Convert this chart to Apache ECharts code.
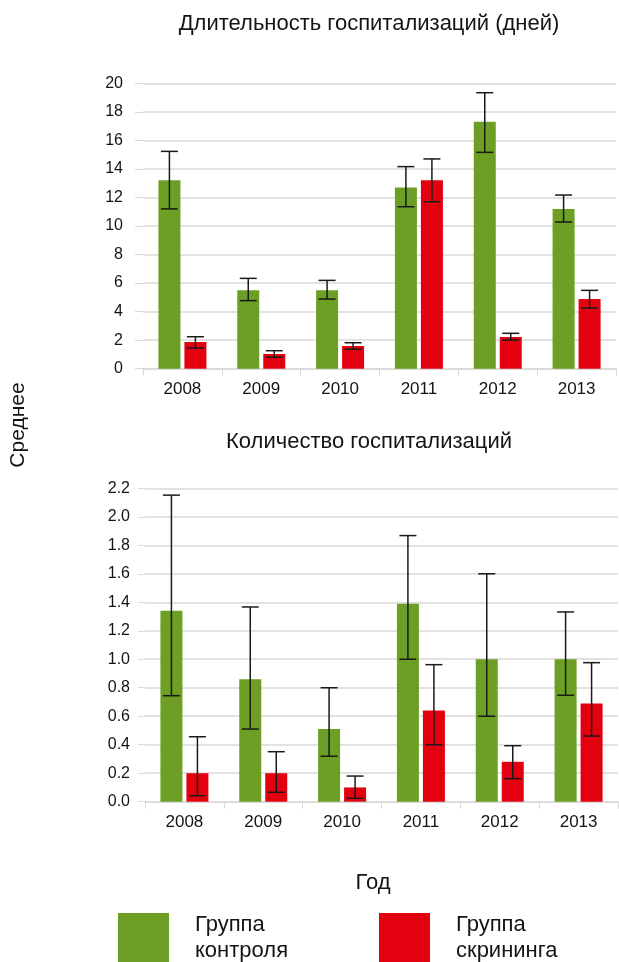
<!DOCTYPE html>
<html>
<head>
<meta charset="utf-8">
<script src="https://cdn.jsdelivr.net/npm/echarts@6/dist/echarts.min.js"></script>
<style>
  html, body { margin: 0; padding: 0; background: #fff; }
  #chart { width: 619px; height: 962px; }
</style>
</head>
<body>
<div id="chart"></div>
<script>
// Years shown on both panels
const years = ['2008', '2009', '2010', '2011', '2012', '2013'];

// Length of hospital stay (days): means and error-bar bounds
const stayControl      = [13.2, 5.5, 5.5, 12.7, 17.3, 11.2];
const stayControlLow   = [11.2, 4.77, 4.88, 11.35, 15.16, 10.28];
const stayControlHigh  = [15.23, 6.33, 6.19, 14.16, 19.34, 12.17];
const stayScreen       = [1.87, 1.03, 1.59, 13.2, 2.22, 4.88];
const stayScreenLow    = [1.45, 0.8, 1.36, 11.7, 2.01, 4.25];
const stayScreenHigh   = [2.24, 1.26, 1.82, 14.7, 2.48, 5.49];

// Number of hospitalisations: means and error-bar bounds
const countControl     = [1.34, 0.86, 0.51, 1.39, 1.0, 1.0];
const countControlLow  = [0.744, 0.51, 0.319, 1.0, 0.6, 0.747];
const countControlHigh = [2.152, 1.367, 0.8, 1.868, 1.6, 1.332];
const countScreen      = [0.2, 0.2, 0.1, 0.64, 0.28, 0.69];
const countScreenLow   = [0.042, 0.066, 0.024, 0.4, 0.162, 0.461];
const countScreenHigh  = [0.456, 0.351, 0.18, 0.962, 0.393, 0.976];

// Axis tick settings
const stayAxis  = { max: 20, interval: 2 };
const countAxis = { max: 2.2, interval: 0.2 };

const seriesNames = ['Группа контроля', 'Группа скрининга'];
const GREEN = '#6c9f24';
const RED = '#e3000f';
const GRID_LINE = '#d9d9d9';
const TEXT = '#141414';
const FONT = 'Liberation Sans';
const BAR_W = 22;
const BAR_GAP = 4;

function errorItems(low, high) {
  return low.map((v, i) => [i, v, high[i]]);
}

function errorRender(offset) {
  return function (params, api) {
    const idx = api.value(0);
    const lo = api.coord([idx, api.value(1)]);
    const hi = api.coord([idx, api.value(2)]);
    const cx = lo[0] + offset;
    const cap = 8.5;
    const st = { stroke: '#1a1a1a', lineWidth: 1.5 };
    return {
      type: 'group',
      children: [
        { type: 'line', shape: { x1: cx, y1: hi[1], x2: cx, y2: lo[1] }, style: st },
        { type: 'line', shape: { x1: cx - cap, y1: hi[1], x2: cx + cap, y2: hi[1] }, style: st },
        { type: 'line', shape: { x1: cx - cap, y1: lo[1], x2: cx + cap, y2: lo[1] }, style: st }
      ]
    };
  };
}

const off = (BAR_W + BAR_GAP) / 2;

function xAxisFor(gridIndex, margin) {
  return {
    type: 'category', gridIndex, data: years,
    axisLine: { lineStyle: { color: GRID_LINE, width: 1.5 } },
    axisTick: { show: true, length: 7, lineStyle: { color: GRID_LINE } },
    axisLabel: { color: TEXT, fontFamily: FONT, fontSize: 17, margin }
  };
}

function yAxisFor(gridIndex, cfg, margin, tickLen, digits) {
  return {
    type: 'value', gridIndex, min: 0, max: cfg.max, interval: cfg.interval,
    axisLine: { show: false },
    axisTick: { show: true, length: tickLen, lineStyle: { color: GRID_LINE } },
    splitLine: { lineStyle: { color: GRID_LINE, width: 1.5 } },
    axisLabel: {
      color: TEXT, fontFamily: FONT, fontSize: 16, margin,
      formatter: v => v.toFixed(digits)
    }
  };
}

function barSeries(name, data, color, axisIdx) {
  return {
    name, type: 'bar', xAxisIndex: axisIdx, yAxisIndex: axisIdx,
    data, barWidth: BAR_W, barGap: (BAR_GAP / BAR_W * 100) + '%',
    itemStyle: { color }, animation: false, z: 2
  };
}

function errSeries(id, low, high, offset, axisIdx) {
  return {
    name: id, type: 'custom', xAxisIndex: axisIdx, yAxisIndex: axisIdx,
    data: errorItems(low, high), renderItem: errorRender(offset),
    encode: { x: 0, y: [1, 2] }, z: 5, animation: false, silent: true
  };
}

const legendCommon = {
  orient: 'horizontal', icon: 'rect', itemWidth: 51, itemHeight: 50,
  selectedMode: false,
  formatter: n => n.replace(' ', '\n'),
  textStyle: { fontFamily: FONT, fontSize: 22, lineHeight: 26, color: TEXT, padding: [0, 0, 0, 21] }
};

const titleStyle = { fontFamily: FONT, fontSize: 22, fontWeight: 'normal', color: TEXT };

const chart = echarts.init(document.getElementById('chart'), null, { renderer: 'canvas' });
chart.setOption({
  backgroundColor: '#fff',
  animation: false,
  title: [
    { text: 'Длительность госпитализаций (дней)', left: 364, top: 8, textAlign: 'center', textStyle: titleStyle },
    { text: 'Количество госпитализаций', left: 364, top: 426, textAlign: 'center', textStyle: titleStyle },
    { text: 'Год', left: 368, top: 867, textAlign: 'center', textStyle: titleStyle }
  ],
  graphic: [{
    type: 'text', x: 18, y: 425, rotation: Math.PI / 2,
    style: { text: 'Среднее', font: '21px "Liberation Sans"', fill: TEXT, align: 'center', verticalAlign: 'middle' }
  }],
  legend: [
    Object.assign({ data: [seriesNames[0]], left: 113, top: 907 }, legendCommon),
    Object.assign({ data: [seriesNames[1]], left: 374, top: 907 }, legendCommon)
  ],
  grid: [
    { left: 143, right: 3, top: 83.3, bottom: 593.3 },
    { left: 145, right: 1, top: 488.3, bottom: 160.3 }
  ],
  xAxis: [xAxisFor(0, 12), xAxisFor(1, 12)],
  yAxis: [yAxisFor(0, stayAxis, 20, 8, 0), yAxisFor(1, countAxis, 15, 7, 1)],
  series: [
    barSeries(seriesNames[0], stayControl, GREEN, 0),
    barSeries(seriesNames[1], stayScreen, RED, 0),
    errSeries('err-stay-control', stayControlLow, stayControlHigh, -off, 0),
    errSeries('err-stay-screen', stayScreenLow, stayScreenHigh, off, 0),
    barSeries(seriesNames[0], countControl, GREEN, 1),
    barSeries(seriesNames[1], countScreen, RED, 1),
    errSeries('err-count-control', countControlLow, countControlHigh, -off, 1),
    errSeries('err-count-screen', countScreenLow, countScreenHigh, off, 1)
  ]
});
</script>
</body>
</html>
